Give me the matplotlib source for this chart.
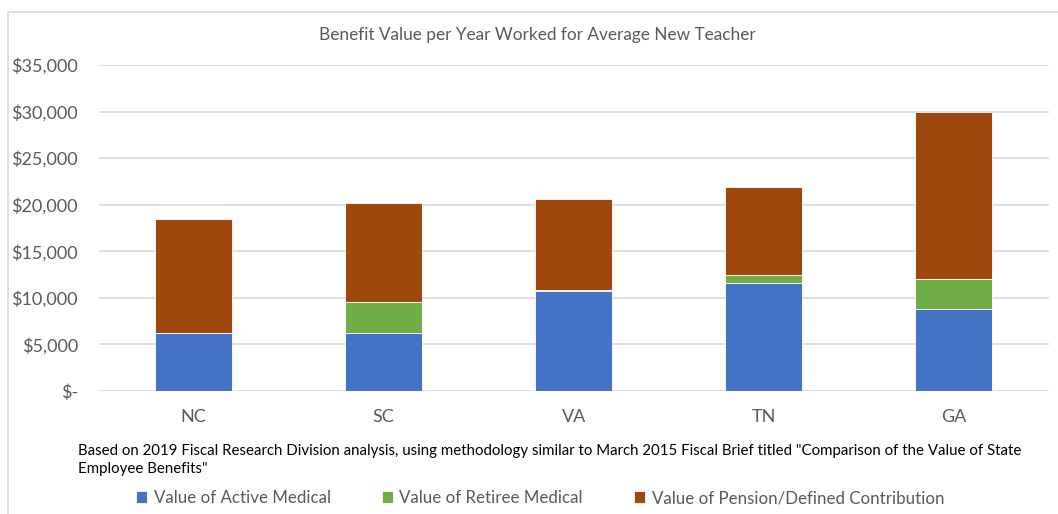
import numpy as np
import matplotlib.pyplot as plt
from matplotlib.patches import Rectangle
from matplotlib.ticker import FuncFormatter

plt.rcParams['font.family'] = ['Lato', 'DejaVu Sans']

# Data
states = ['NC', 'SC', 'VA', 'TN', 'GA']
active_medical = [6200, 6250, 10750, 11550, 8850]
retiree_medical = [0, 3330, 110, 920, 3220]
pension = [12300, 10560, 9710, 9430, 17930]

series_names = ['Value of Active Medical', 'Value of Retiree Medical',
                'Value of Pension/Defined Contribution']
colors = ['#4472C4', '#70AD47', '#9E480E']
gray = '#595959'

fig = plt.figure(figsize=(10.58, 5.14), dpi=100)
ax = fig.add_axes([98.7 / 1058, 123 / 514, 950 / 1058, 326 / 514])

x = np.arange(len(states))
bottom = np.zeros(len(states))
handles = []
for vals, name, c in zip([active_medical, retiree_medical, pension], series_names, colors):
    b = ax.bar(x, vals, 0.405, bottom=bottom, color=c, edgecolor='white', linewidth=0.6, label=name, zorder=3)
    handles.append(b)
    bottom += np.array(vals)

ax.set_xlim(-0.5, 4.5)
ax.set_ylim(0, 35000)
ax.set_yticks(range(0, 35001, 5000))
ax.yaxis.set_major_formatter(FuncFormatter(lambda v, p: '$-' if v == 0 else '${:,.0f}'.format(v)))
ax.set_xticks(x)
ax.set_xticklabels(states)
ax.tick_params(axis='both', length=0, colors=gray, labelsize=13)
ax.tick_params(axis='x', pad=13)
ax.tick_params(axis='y', pad=15)
ax.grid(axis='y', color='#D9D9D9', linewidth=1.2, zorder=0)
for s in ax.spines.values():
    s.set_visible(False)

# chart border
fig.patches.append(Rectangle((8 / 1058, -0.1), 1.2, (514 - 12) / 514 + 0.1, transform=fig.transFigure,
                             fill=False, edgecolor='#D9D9D9', linewidth=1.2))

fig.text(537 / 1058, 1 - 35 / 514, 'Benefit Value per Year Worked for Average New Teacher',
         ha='center', va='center', fontsize=12.4, color=gray)

fig.text(78 / 1058, 1 - 460 / 514,
         'Based on 2019 Fiscal Research Division analysis, using methodology similar to March 2015 Fiscal Brief titled "Comparison of the Value of State\nEmployee Benefits"',
         ha='left', va='center', fontsize=10.8, color='black', linespacing=1.35)

fig.legend(handles=handles, labels=series_names, loc='center', bbox_to_anchor=(540 / 1058, 1 - 498 / 514),
           ncol=3, frameon=False, fontsize=12.2, labelcolor=gray, handlelength=0.65, handleheight=0.65,
           handletextpad=0.4, columnspacing=3.0)

plt.savefig('out.png', dpi=100)
